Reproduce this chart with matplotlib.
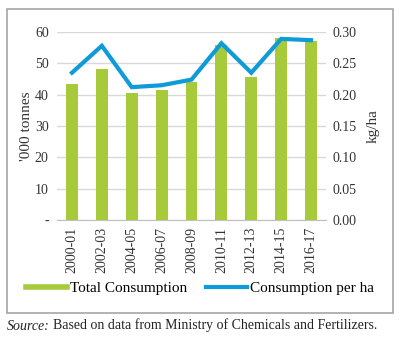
import matplotlib
matplotlib.use('Agg')
import matplotlib.pyplot as plt
from matplotlib.lines import Line2D
from matplotlib.patches import Rectangle

years = ['2000-01','2002-03','2004-05','2006-07','2008-09',
         '2010-11','2012-13','2014-15','2016-17']
total = [43.4, 48.2, 40.6, 41.4, 43.9, 56.0, 45.6, 58.0, 57.0]   # '000 tonnes
per_ha = [0.235, 0.278, 0.212, 0.215, 0.224, 0.282, 0.235, 0.289, 0.287]  # kg/ha

green = '#A6CA3A'
blue = '#0E9BD8'

plt.rcParams['font.family'] = ['Liberation Serif', 'DejaVu Serif']

fig = plt.figure(figsize=(4.0, 3.38), dpi=100)
# outer frame around the chart
fig.patches.append(Rectangle((7/400, 1-313/338), 386/400, 304/338,
                             transform=fig.transFigure, fill=False,
                             edgecolor='#A6A6A6', linewidth=1.2))

ax = fig.add_axes([57/400, 1-220/338, 269/400, 188/338])
x = range(len(years))
ax.bar(x, total, width=0.4, color=green, zorder=2)
ax.set_xlim(-0.5, len(years)-0.5)
ax.set_ylim(0, 60)
ax.set_yticks([0,10,20,30,40,50,60])
ax.set_yticklabels(['-','10','20','30','40','50','60'])
ax.set_xticks(list(x))
ax.set_xticklabels(years, rotation=90)
ax.grid(axis='y', color='#D9D9D9', linewidth=1, zorder=0)
ax.set_axisbelow(True)
for s in ['top','right','left']:
    ax.spines[s].set_visible(False)
ax.spines['bottom'].set_color('#BFBFBF')
ax.tick_params(axis='both', length=0, labelsize=10, colors='#333333')
ax.tick_params(axis='y', pad=6)
ax.tick_params(axis='x', pad=5)
ax.set_ylabel("'000 tonnes", fontsize=11, color='#333333', labelpad=1)

ax2 = ax.twinx()
ax2.plot(x, per_ha, color=blue, linewidth=3, solid_joinstyle='miter', zorder=3)
ax2.set_ylim(0, 0.30)
ax2.set_yticks([0,0.05,0.10,0.15,0.20,0.25,0.30])
ax2.set_yticklabels(['%.2f' % v for v in ax2.get_yticks()])
for s in ['top','right','left','bottom']:
    ax2.spines[s].set_visible(False)
ax2.tick_params(axis='y', length=0, labelsize=10, colors='#333333', pad=5)
ax2.set_ylabel('kg/ha', fontsize=11, color='#333333', labelpad=7)

handles = [Line2D([], [], color=green, linewidth=4),
           Line2D([], [], color=blue, linewidth=3)]
fig.legend(handles, ['Total Consumption', 'Consumption per ha'],
           loc='center', bbox_to_anchor=(200/400, 1-288/338), ncol=2,
           frameon=False, fontsize=11, handlelength=2.7,
           handletextpad=0.2, columnspacing=1.2)

t = fig.text(7/400, 1-326/338, 'Source:', fontsize=10, style='italic',
             va='center', ha='left', color='#222222')
ax.annotate('Based on data from Ministry of Chemicals and Fertilizers.',
            xy=(1, 0), xycoords=t, xytext=(2.5, 0), textcoords='offset points',
            va='bottom', ha='left', fontsize=10, color='#222222',
            annotation_clip=False)

fig.savefig('out.png', dpi=100)
